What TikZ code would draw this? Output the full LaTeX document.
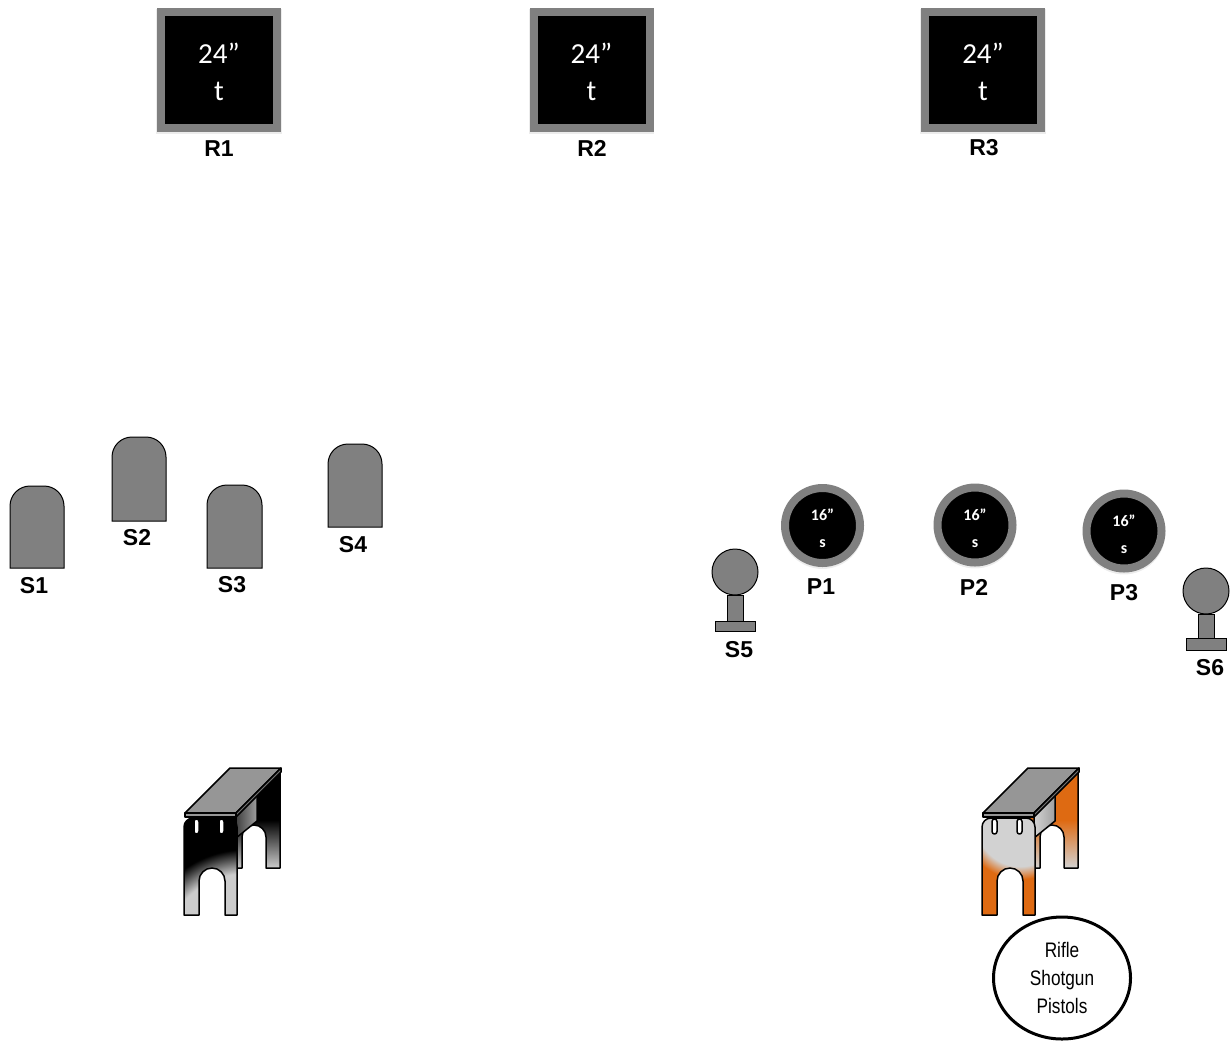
\documentclass[tikz,border=0pt]{standalone}
\usepackage{fontspec}
\setmainfont{Liberation Sans}
\newfontfamily\calibri{Carlito}
\newfontfamily\narrowfont[FakeStretch=0.82]{Liberation Sans}
\usetikzlibrary{shapes.geometric}
\usetikzlibrary{shadows}

\definecolor{plategray}{RGB}{128,128,128}
\definecolor{slabgray}{RGB}{150,150,150}
\definecolor{benchorange}{RGB}{222,106,18}
\colorlet{glowin}{gray!40}
\colorlet{glowout}{black}
\pgfdeclareradialshading[glowin,glowout]{benchglow}{\pgfpoint{0bp}{0bp}}{%
  color(0bp)=(glowin); color(17bp)=(glowin); color(22bp)=(glowout); color(50bp)=(glowout)}

% slot with rounded ends, #1 = left x
\newcommand{\slotpath}[1]{(#1,831.5) -- (#1,821.5) arc[start angle=180, end angle=360, radius=2.5]
  -- (#1+5,831.5) arc[start angle=0, end angle=180, radius=2.5] -- cycle}

% front leg outline with arch and two slots
\newcommand{\frontlegpath}{(184,915) -- (184,827) arc[start angle=180, end angle=270, radius=9]
  -- (228,818) arc[start angle=270, end angle=360, radius=9] -- (237,915) -- (225,915)
  -- (225,881) arc[start angle=0, end angle=-180, radius=13] -- (199,915) -- cycle
  \slotpath{194} \slotpath{219}}

% #1 x offset, #2 leg colour, #3 highlight colour, #4 apron colour,
% #5 highlight centre, #6 highlight radius
\newcommand{\bench}[6]{%
  \begin{scope}[shift={(#1,0)}]
    \colorlet{glowin}{#3}\colorlet{glowout}{#2}
    % back legs
    \shade[top color=#2, bottom color=#3, middle color=#2, bench_line]
      (230,772) -- (280,772) -- (280,868) -- (266,868) -- (266,837)
      arc[start angle=0, end angle=-180, radius=12] -- (242,868) -- (230,868) -- cycle;
    % side apron
    \shade[left color=#4, right color=gray!75, bench_line]
      (236,815) -- (257,794) -- (257,821) -- (236,838) -- cycle;
    % front legs
    \begin{scope}[even odd rule]
      \clip \frontlegpath;
      \fill[#2] (180,810) rectangle (240,920);
      \shade[shading=benchglow] #5 circle (#6);
    \end{scope}
    \draw[bench_line, even odd rule] \frontlegpath;
    % top
    \filldraw[fill=slabgray, bench_line] (185,813) -- (230,768) -- (281,768) -- (236,813) -- cycle;
    \filldraw[fill=slabgray!80!black, bench_line] (236,813) -- (281,768) -- (281,772) -- (236,817) -- cycle;
    \filldraw[fill=slabgray, bench_line] (185,813) rectangle (236,817);
  \end{scope}}

\begin{document}
\begin{tikzpicture}[x=1pt, y=-1pt,
        square_style/.style={rectangle, draw=plategray, line width=8pt, fill=black, minimum size=116pt,
          drop shadow={opacity=0.15, shadow xshift=0pt, shadow yshift=-2pt, shadow scale=1.08}},
        plate_style/.style={circle, draw=plategray, line width=8pt, fill=black, minimum size=75pt,
          drop shadow={opacity=0.15, shadow xshift=0pt, shadow yshift=-2pt, shadow scale=1.1}},
        square_text/.style={text=white, anchor=base, font=\calibri\fontsize{29}{35}\selectfont},
        plate_text/.style={text=white, anchor=base, font=\calibri\bfseries\fontsize{16}{20}\selectfont},
        label_style/.style={font=\bfseries\fontsize{23}{27}\selectfont},
        steel_style/.style={fill=plategray, draw=black, line width=1pt},
        popper_style/.style={circle, fill=plategray, draw=black, line width=1pt, minimum size=46pt, inner sep=0pt},
        bench_line/.style={draw=black, line width=1.5pt, line join=round},
        gun_style/.style={ellipse, draw=black, line width=3pt, fill=white, minimum width=137pt, minimum height=122pt,
          align=center, font=\narrowfont\fontsize{21}{28}\selectfont}]

        \useasboundingbox (0,0) rectangle (1230,1042);

        % rifle squares
        \node [square_style](r1) at (219,69.5) {};
        \node [square_style](r2) at (591.5,69.5) {};
        \node [square_style](r3) at (983,69.5) {};
        \node [square_text](r1_size) at (219,63) {24”};
        \node [square_text](r1_type) at (219,100) {t};
        \node [square_text](r2_size) at (591.5,63) {24”};
        \node [square_text](r2_type) at (591.5,100) {t};
        \node [square_text](r3_size) at (983,63) {24”};
        \node [square_text](r3_type) at (983,100) {t};
        \node [label_style](r1_label) at (219,149) {R1};
        \node [label_style](r2_label) at (592,148) {R2};
        \node [label_style](r3_label) at (984,148) {R3};

        % shotgun plates
        \foreach \xa/\ya/\xb/\yb in {10/486/64/568, 112/437/166/521, 207/485/262/568, 328/444/382/527}
          \filldraw [steel_style] (\xa,\yb) -- (\xa,\ya+20) arc[start angle=180, end angle=270, radius=20]
            -- (\xb-20,\ya) arc[start angle=270, end angle=360, radius=20] -- (\xb,\yb) -- cycle;
        \node [label_style](s1_label) at (34,586) {S1};
        \node [label_style](s2_label) at (137,538) {S2};
        \node [label_style](s3_label) at (232,585) {S3};
        \node [label_style](s4_label) at (353,545) {S4};

        % poppers
        \filldraw [steel_style] (715,621) rectangle (755,631);
        \filldraw [steel_style] (727,595) rectangle (743,621);
        \node [popper_style](s5) at (735,572) {};
        \filldraw [steel_style] (1186,638) rectangle (1226,650);
        \filldraw [steel_style] (1198,614) rectangle (1214,638);
        \node [popper_style](s6) at (1206,591) {};
        \node [label_style](s5_label) at (739,650) {S5};
        \node [label_style](s6_label) at (1210,668) {S6};

        % pistol plates
        \node [plate_style](p1) at (822.5,525.5) {};
        \node [plate_style](p2) at (975,525) {};
        \node [plate_style](p3) at (1124,531) {};
        \node [plate_text](p1_size) at (822.5,520) {16”};
        \node [plate_text](p1_type) at (822.5,547) {s};
        \node [plate_text](p2_size) at (975,520) {16”};
        \node [plate_text](p2_type) at (975,547) {s};
        \node [plate_text](p3_size) at (1124,526) {16”};
        \node [plate_text](p3_type) at (1124,553) {s};
        \node [label_style](p1_label) at (821,587) {P1};
        \node [label_style](p2_label) at (974,587) {P2};
        \node [label_style](p3_label) at (1124,593) {P3};

        % tables
        \bench{0}{black}{gray!40}{black!75}{(245,955)}{120}
        \bench{798}{benchorange}{gray!35}{gray!35}{(222,822)}{65}

        \node [gun_style](guns) at (1062,978) {Rifle\\Shotgun\\Pistols};

\end{tikzpicture}
\end{document}
